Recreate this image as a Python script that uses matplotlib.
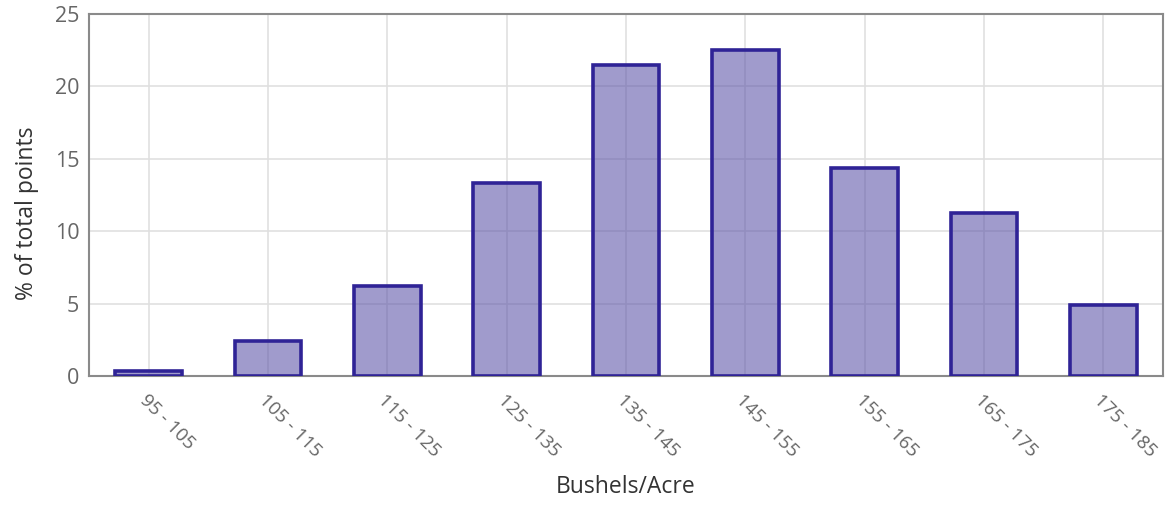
import matplotlib
matplotlib.use("Agg")
import matplotlib.pyplot as plt

categories = ["95 - 105", "105 - 115", "115 - 125", "125 - 135", "135 - 145",
              "145 - 155", "155 - 165", "165 - 175", "175 - 185"]
percent = [0.35, 2.45, 6.2, 13.35, 21.45, 22.5, 14.4, 11.25, 4.9]
yticks = [0, 5, 10, 15, 20, 25]

plt.rcParams['font.family'] = ['Open Sans', 'DejaVu Sans']

fig = plt.figure(figsize=(11.65, 5.08), dpi=100)
ax = fig.add_axes([0.0764, 0.2598, 0.9219, 0.7126])

x = list(range(len(categories)))
ax.bar(x, percent, width=0.56, color=(97/255, 88/255, 170/255, 0.6),
       edgecolor='#2f2396', linewidth=2.6, zorder=3)

ax.set_xlim(-0.5, len(categories) - 0.5)
ax.set_ylim(0, 25)
ax.set_yticks(yticks)
ax.set_xticks(x)
ax.set_xticklabels(categories, rotation=-45, ha='left', va='top',
                   rotation_mode='anchor', color='#666666', fontsize=13.5)
ax.tick_params(axis='y', labelcolor='#666666', labelsize=15.5, length=0, pad=7)
ax.tick_params(axis='x', length=0, pad=11)

ax.grid(True, color='#e0e0e0', linewidth=1.2, zorder=0)
ax.set_axisbelow(True)
for s in ax.spines.values():
    s.set_color('#8a8a8a')
    s.set_linewidth(1.5)

ax.set_xlabel("Bushels/Acre", fontsize=16.5, color='#333333', labelpad=10)
ax.set_ylabel("% of total points", fontsize=16.5, color='#333333')
ax.yaxis.set_label_coords(-0.047, 0.45)

fig.savefig("out.png", dpi=100, facecolor='white')
